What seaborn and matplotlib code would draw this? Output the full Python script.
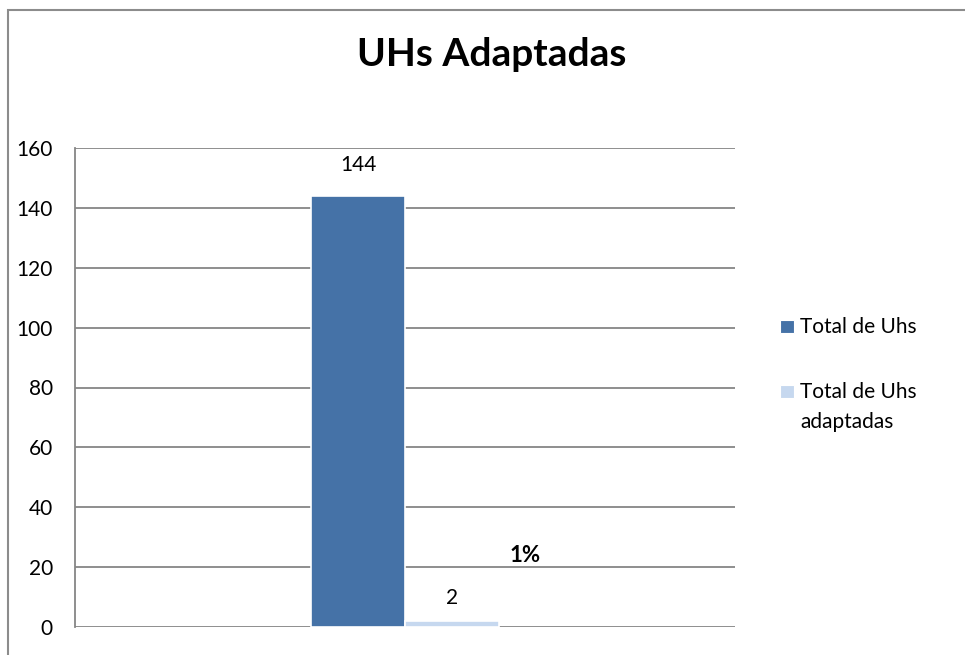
import numpy as np
import pandas as pd
import matplotlib
matplotlib.use("Agg")
import matplotlib.pyplot as plt
from matplotlib.patches import Rectangle
import seaborn as sns

# ---- data ----
categories = [""]
series = ["Total de Uhs", "Total de Uhs adaptadas"]
values = [144, 2]
legend_labels = [["Total de Uhs"], ["Total de Uhs", "adaptadas"]]
title = "UHs Adaptadas"
yticks = [0, 20, 40, 60, 80, 100, 120, 140, 160]

colors = ["#4572A7", "#C6D8EF"]

df = pd.DataFrame({"cat": categories * len(series), "serie": series, "valor": values})

sns.set_theme(style="white")
plt.rcParams["font.family"] = ["Lato", "DejaVu Sans"]
plt.rcParams["text.color"] = "black"
plt.rcParams["ytick.color"] = "black"
plt.rcParams["ytick.labelcolor"] = "black"

W, H = 965, 655
fig = plt.figure(figsize=(W / 100, H / 100), dpi=100)
ax = fig.add_axes([75/W, 1-627/H, (735-75)/W, (627-148)/H])

sns.barplot(data=df, x="cat", y="valor", hue="serie", palette=colors,
            width=0.285, gap=0, ax=ax, legend=False,
            edgecolor="white", linewidth=1.2, saturation=1)

ax.set_xlim(-0.5, 0.5)
ax.set_ylim(0, 160)
ax.set_yticks(yticks)
ax.set_yticklabels([str(t) for t in yticks], fontsize=15, color="black")
ax.tick_params(axis="y", length=0, pad=16)
ax.set_xticks([])
ax.set_xlabel("")
ax.set_ylabel("")
ax.yaxis.grid(True, color="#868686", linewidth=1.3)
ax.set_axisbelow(True)
for s in ["top", "right", "bottom"]:
    ax.spines[s].set_visible(False)
ax.spines["left"].set_color("#868686")
ax.spines["left"].set_linewidth(1.3)

# value labels
offsets = [31, 23]
for bar, v, off in zip(ax.patches, values, offsets):
    xc = bar.get_x() + bar.get_width() / 2
    ax.annotate(str(v), (xc, bar.get_height()), xytext=(0, off * 0.72),
                textcoords="offset points", ha="center", va="center",
                fontsize=15, color="black")

pct = values[1] / values[0] * 100
ax.text(0.182, 24, f"{pct:.0f}%", ha="center", va="center", fontsize=16,
        fontweight="bold", color="black")

fig.text(492/W, 1-55/H, title, ha="center", va="center", fontsize=28,
         fontweight="bold", color="black")

# legend (manual, marker aligned with first text line)
legend_y = [327, 392]
line_gap = 30
for c, lines, y in zip(colors, legend_labels, legend_y):
    fig.add_artist(Rectangle((780/W, 1-(y+6)/H), 14/W, 13/H, transform=fig.transFigure,
                             facecolor=c, edgecolor="white", linewidth=0.8))
    for i, t in enumerate(lines):
        fig.text(800/W, 1-(y + i*line_gap)/H, t, ha="left", va="center",
                 fontsize=15, color="black")

fig.add_artist(Rectangle((8/W, -0.1), 1.2, 1 - 10/H + 0.1, transform=fig.transFigure,
                         fill=False, edgecolor="#8C8C8C", linewidth=1.5))

fig.savefig("out.png", dpi=100)
